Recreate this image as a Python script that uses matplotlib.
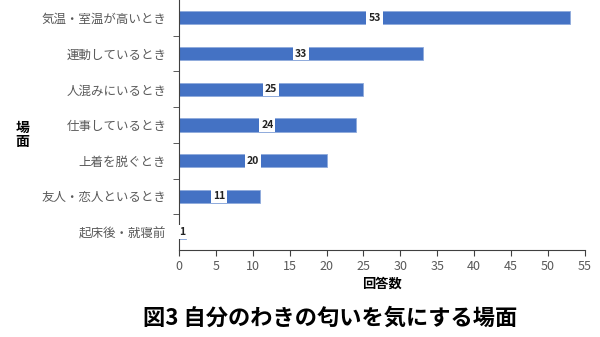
import matplotlib.pyplot as plt
import numpy as np

plt.rcParams['font.family'] = ['Noto Sans CJK JP', 'DejaVu Sans']

# データ(上から順)
scenes = ['気温・室温が高いとき', '運動しているとき', '人混みにいるとき', '仕事しているとき',
          '上着を脱ぐとき', '友人・恋人といるとき', '起床後・就寝前']
counts = [53, 33, 25, 24, 20, 11, 1]
xticks = [0, 5, 10, 15, 20, 25, 30, 35, 40, 45, 50, 55]

fig = plt.figure(figsize=(6, 3.37), dpi=100)
ax = fig.add_axes([0.298, 0.258, 0.677, 0.742])

y = np.arange(len(scenes))[::-1]
ax.barh(y, counts, height=0.37, color='#4472C4', edgecolor='#8FAADC', linewidth=0.6)

# 値ラベル(バー中央、白背景)
for yi, c in zip(y, counts):
    ax.text(c / 2, yi, str(c), ha='center', va='center', fontsize=7.5, fontweight='bold',
            color='#222222', bbox=dict(boxstyle='square,pad=0.18', fc='white', ec='none'))

ax.set_ylim(-0.5, len(scenes) - 0.5)
ax.set_xlim(0, 55)
ax.set_xticks(xticks)
ax.set_yticks(y)
ax.set_yticklabels(scenes, fontsize=9, color='#595959')
ax.set_yticks(np.arange(len(scenes) - 1) + 0.5, minor=True)
ax.tick_params(axis='y', which='major', length=0, pad=9)
ax.tick_params(axis='y', which='minor', length=4, color='#404040')
ax.tick_params(axis='x', length=4, labelsize=9, labelcolor='#595959', color='#404040')

for s in ['top', 'right']:
    ax.spines[s].set_visible(False)
ax.spines['left'].set_color('#404040')
ax.spines['bottom'].set_color('#404040')

ax.set_xlabel('回答数', fontsize=9.5, fontweight='bold', labelpad=2)
fig.text(0.037, 0.6, '場\n面', fontsize=10, fontweight='bold', ha='center', va='center',
         linespacing=1.0)
fig.text(0.55, 0.055, '図3 自分のわきの匂いを気にする場面', fontsize=16, fontweight='bold',
         ha='center', va='center')

fig.savefig('out.png', dpi=100)
